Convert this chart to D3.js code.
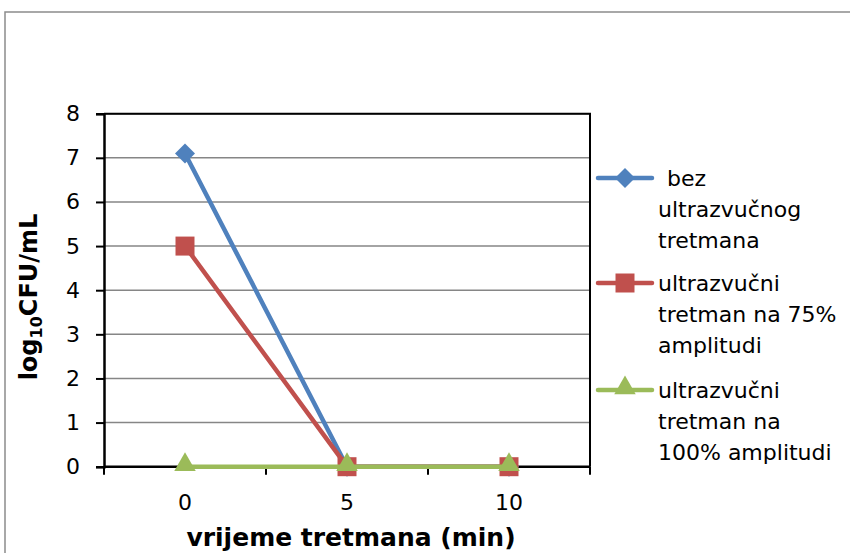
<!DOCTYPE html>
<html><head><meta charset="utf-8">
<script src="https://cdn.jsdelivr.net/npm/d3@7"></script>
<style>body{margin:0;background:#fff}svg{display:block}text{font-family:"DejaVu Sans",Verdana,sans-serif}</style>
</head><body><svg id="c" width="850" height="553"></svg>
<script>
const categories = ["0", "5", "10"];
const yTicks = [0, 1, 2, 3, 4, 5, 6, 7, 8];
const seriesNames = [["bez", "ultrazvučnog", "tretmana"], ["ultrazvučni", "tretman na 75%", "amplitudi"], ["ultrazvučni", "tretman na", "100% amplitudi"]];
const bezValues = [7.1, 0, 0];
const amp75Values = [5, 0, 0];
const amp100Values = [0, 0, 0];
const colors = ["#4F81BD", "#C0504D", "#9BBB59"];
const series = [bezValues, amp75Values, amp100Values];

const svg = d3.select("#c");
const L = 104, R = 590, T = 113.7, B = 466.7;

svg.append("rect").attr("x", 5).attr("y", 12).attr("width", 900).attr("height", 600)
  .attr("fill", "#fff").attr("stroke", "#8c8c8c").attr("stroke-width", 1.5);

const x = d3.scaleBand().domain(categories).range([L, R]).padding(0);
const y = d3.scaleLinear().domain([0, 8]).range([B, T]);
const cx = c => x(c) + x.bandwidth() / 2;

// marker generators
const markerSym = [
  { type: d3.symbolSquare, size: 200, rot: 45, dy: 0 },
  { type: d3.symbolSquare, size: 361, rot: 0, dy: 0 },
  { type: d3.symbolTriangle, size: 200, rot: 0, dy: -2 }
];
function marker(g, k, px, py) {
  const m = markerSym[k];
  g.append("path").attr("transform", `translate(${px},${py + m.dy}) rotate(${m.rot})`)
    .attr("d", d3.symbol().type(m.type).size(m.size)).attr("fill", colors[k]);
}

// gridlines
svg.append("g").selectAll("line").data(yTicks.slice(1)).join("line")
  .attr("x1", L).attr("x2", R).attr("y1", d => y(d)).attr("y2", d => y(d))
  .attr("stroke", "#868686").attr("stroke-width", 1.5);

// plot border (top/right)
svg.append("path").attr("d", `M${L},${y(8)}H${R}V${B}`).attr("fill", "none")
  .attr("stroke", "#000").attr("stroke-width", 2);

// y axis
const ya = svg.append("g").attr("transform", `translate(${L},0)`)
  .call(d3.axisLeft(y).tickValues(yTicks).tickSize(8).tickPadding(16).tickFormat(d3.format("d")));
ya.select(".domain").attr("stroke", "#000").attr("stroke-width", 2.5);
ya.selectAll(".tick line").attr("stroke", "#000").attr("stroke-width", 2);
ya.selectAll("text").attr("font-size", 22).attr("fill", "#000").attr("font-family", "DejaVu Sans");

// x axis
const xa = svg.append("g");
xa.append("line").attr("x1", L).attr("x2", R).attr("y1", B).attr("y2", B).attr("stroke", "#000").attr("stroke-width", 2.5);
const edges = categories.map(c => x(c)).concat([x(categories[categories.length - 1]) + x.bandwidth()]);
xa.selectAll("line.t").data(edges).join("line").attr("class", "t")
  .attr("x1", d => d).attr("x2", d => d).attr("y1", B).attr("y2", B + 8).attr("stroke", "#000").attr("stroke-width", 2);
xa.selectAll("text").data(categories).join("text")
  .attr("x", d => cx(d)).attr("y", 510).attr("text-anchor", "middle").attr("font-size", 22).text(d => d);

// axis titles
svg.append("text").attr("x", 351).attr("y", 546).attr("text-anchor", "middle")
  .attr("font-size", 25).attr("font-weight", "bold").text("vrijeme tretmana (min)");
const yt = svg.append("text").attr("transform", "translate(37,297) rotate(-90)").attr("text-anchor", "middle")
  .attr("font-size", 24).attr("font-weight", "bold");
yt.append("tspan").text("log");
yt.append("tspan").attr("font-size", 16).attr("dy", 5).text("10");
yt.append("tspan").attr("dy", -5).text("CFU/mL");

// series
const line = d3.line().x((d, i) => cx(categories[i])).y(d => y(d));
series.forEach((vals, k) => {
  svg.append("path").datum(vals).attr("d", line).attr("fill", "none")
    .attr("stroke", colors[k]).attr("stroke-width", 4.5).attr("stroke-linejoin", "round");
  const g = svg.append("g");
  vals.forEach((v, i) => marker(g, k, cx(categories[i]), y(v)));
});

// legend
const legY = [178, 283, 390];
const lg = svg.append("g");
seriesNames.forEach((names, k) => {
  lg.append("line").attr("x1", 598).attr("x2", 652).attr("y1", legY[k]).attr("y2", legY[k])
    .attr("stroke", colors[k]).attr("stroke-width", 4.5).attr("stroke-linecap", "round");
  marker(lg, k, 625, legY[k]);
  names.forEach((t, j) => {
    lg.append("text").attr("x", k === 0 && j === 0 ? 667 : 658).attr("y", legY[k] + 8 + j * 31)
      .attr("font-size", 22).text(t);
  });
});
</script></body></html>
